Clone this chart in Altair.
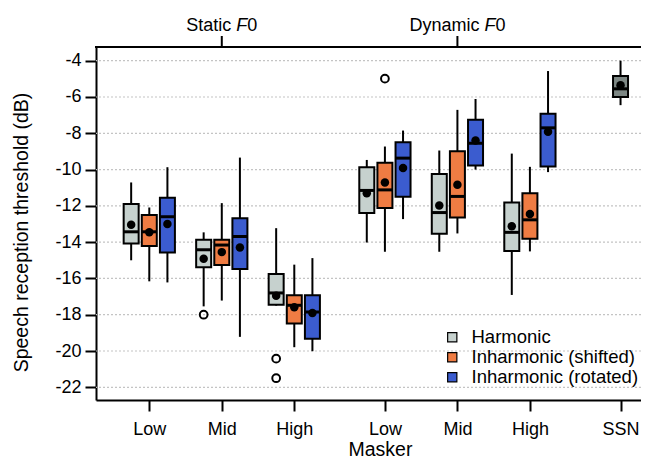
import altair as alt
import pandas as pd

FONT = "Liberation Sans"
FS = 18        # tick labels
FS_TITLE = 19.5
FS_LEG = 18.5

# ---- categories / positions ----
groups = ["Static Low", "Static Mid", "Static High", "Dynamic Low", "Dynamic Mid", "Dynamic High"]
group_pos = [1, 2, 3, 4.25, 5.25, 6.25]
tick_pos = [1, 2, 3, 4.25, 5.25, 6.25, 7.5]
tick_labels = ["Low", "Mid", "High", "Low", "Mid", "High", "SSN"]
y_ticks = [-4, -6, -8, -10, -12, -14, -16, -18, -20, -22]
conditions = ["Harmonic", "Inharmonic (shifted)", "Inharmonic (rotated)"]
cond_offset = [-0.25, 0.0, 0.25]
colors = ["#c6d1ce", "#ef7c43", "#3b5ccf", "#7d8784"]

# ---- box statistics (dB) per group ----
harmonic_wlo = [-15.00, -17.54, -17.50, -14.02, -14.53, -16.91]
harmonic_q1 = [-14.07, -15.39, -17.45, -12.40, -13.54, -14.49]
harmonic_med = [-13.43, -14.42, -16.80, -11.15, -12.37, -13.46]
harmonic_q3 = [-11.90, -13.87, -15.76, -9.87, -10.25, -11.81]
harmonic_whi = [-10.71, -13.46, -13.23, -9.47, -8.95, -9.12]
harmonic_mean = [-13.04, -14.91, -16.95, -11.30, -11.98, -13.13]

shifted_wlo = [-16.16, -17.22, -19.79, -14.53, -13.52, -14.51]
shifted_q1 = [-14.21, -15.26, -18.49, -12.12, -12.64, -13.81]
shifted_med = [-13.43, -14.16, -17.48, -11.12, -11.48, -12.77]
shifted_q3 = [-12.51, -13.87, -16.93, -9.63, -8.99, -11.30]
shifted_whi = [-12.09, -11.85, -15.24, -8.73, -6.71, -9.85]
shifted_mean = [-13.45, -14.55, -17.59, -10.71, -10.84, -12.45]

rotated_wlo = [-16.22, -19.22, -20.01, -12.73, -10.00, -10.14]
rotated_q1 = [-14.57, -15.48, -19.33, -11.50, -9.78, -9.83]
rotated_med = [-12.60, -13.69, -17.85, -9.37, -8.55, -7.70]
rotated_q3 = [-11.56, -12.69, -16.93, -8.49, -7.25, -6.92]
rotated_whi = [-9.87, -9.34, -14.88, -7.85, -6.11, -4.57]
rotated_mean = [-13.00, -14.29, -17.90, -9.92, -8.40, -7.91]

ssn_stats = {"wlo": -6.45, "q1": -6.0, "med": -5.55, "q3": -4.85, "whi": -4.0, "mean": -5.35}

outlier_group = ["Static Mid", "Static High", "Static High", "Dynamic Low"]
outlier_cond = ["Harmonic", "Harmonic", "Harmonic", "Inharmonic (shifted)"]
outlier_value = [-18.0, -20.42, -21.5, -4.99]

top_pos = [2, 5.25]
top_prefix = ["Static", "Dynamic"]

# ---- build table ----
stats = {
    "Harmonic": (harmonic_wlo, harmonic_q1, harmonic_med, harmonic_q3, harmonic_whi, harmonic_mean),
    "Inharmonic (shifted)": (shifted_wlo, shifted_q1, shifted_med, shifted_q3, shifted_whi, shifted_mean),
    "Inharmonic (rotated)": (rotated_wlo, rotated_q1, rotated_med, rotated_q3, rotated_whi, rotated_mean),
}
rows = []
for ci, cond in enumerate(conditions):
    wlo, q1, med, q3, whi, mean = stats[cond]
    for gi, g in enumerate(groups):
        rows.append(dict(group=g, cond=cond, pos=group_pos[gi] + cond_offset[ci],
                         wlo=wlo[gi], q1=q1[gi], med=med[gi], q3=q3[gi], whi=whi[gi], mean=mean[gi]))
rows.append(dict(group="SSN", cond="SSN", pos=7.5, **ssn_stats))
df = pd.DataFrame(rows)

out_rows = []
for g, c, v in zip(outlier_group, outlier_cond, outlier_value):
    out_rows.append(dict(pos=group_pos[groups.index(g)] + cond_offset[conditions.index(c)], value=v))
out_df = pd.DataFrame(out_rows)

# ---- scales & axes ----
PX_PER_UNIT = 72.5
W = 545
H = 353
x_lo = 0.265
x_scale = alt.Scale(domain=[x_lo, x_lo + W / PX_PER_UNIT], nice=False, zero=False, padding=0)
y_scale = alt.Scale(domain=[-22.70, -3.245], nice=False, zero=False, padding=0)

label_expr = "[" + ",".join("'%s'" % t for t in tick_labels) + "][indexof([" + \
    ",".join(str(p) for p in tick_pos) + "], datum.value)]"

x_axis_bottom = alt.Axis(orient="bottom", values=tick_pos, labelExpr=label_expr,
                         tickSize=11, tickWidth=2, tickColor="black",
                         domainColor="black", domainWidth=2, grid=False,
                         labelPadding=9, labelFont=FONT, labelFontSize=FS, labelColor="black",
                         labelFlush=False, labelOverlap=False,
                         titleFont=FONT, titleFontSize=FS_TITLE, titleFontWeight="normal",
                         titleColor="black", titleX=284, titleY=49, titleBaseline="middle",
                         titleAlign="center")

y_axis = alt.Axis(values=y_ticks, labelExpr="'-' + abs(datum.value)",
                  tickSize=11, tickWidth=2, tickColor="black",
                  domainColor="black", domainWidth=2, grid=False,
                  labelPadding=4, labelFont=FONT, labelFontSize=FS, labelColor="black",
                  labelFlush=False, labelOverlap=False,
                  titleFont=FONT, titleFontSize=FS_TITLE, titleFontWeight="normal", titleColor="black",
                  titleX=-75, titleY=185, titleAlign="center", titleBaseline="middle")

X_NONE = alt.X("pos:Q", scale=x_scale, axis=None)

# gridlines
grid = alt.Chart(pd.DataFrame({"t": y_ticks})).mark_rule(
    color="#c4c4c4", strokeWidth=1.2, strokeDash=[2, 2]).encode(
    y=alt.Y("t:Q", scale=y_scale, axis=y_axis, title="Speech reception threshold (dB)"),
)

base = alt.Chart(df)

whiskers = base.mark_rule(color="black", strokeWidth=2).encode(
    x=alt.X("pos:Q", scale=x_scale, axis=x_axis_bottom, title="Masker"),
    y=alt.Y("wlo:Q", scale=y_scale, axis=None),
    y2="whi:Q",
)

boxes = base.mark_bar(size=15, stroke="black", strokeWidth=2, orient="vertical", opacity=1).encode(
    x=X_NONE,
    y=alt.Y("q1:Q", scale=y_scale, axis=None),
    y2="q3:Q",
    color=alt.Color("cond:N",
                    scale=alt.Scale(domain=conditions + ["SSN"], range=colors),
                    legend=alt.Legend(values=conditions, title=None, orient="none",
                                      legendX=347, legendY=281, padding=0,
                                      symbolType="square", symbolSize=85,
                                      symbolStrokeColor="black", symbolStrokeWidth=1.2,
                                      labelFont=FONT, labelFontSize=FS_LEG, labelColor="black",
                                      labelLimit=400, labelOffset=10, rowPadding=1)),
)

medians = base.mark_tick(color="black", thickness=3, size=15, orient="horizontal", opacity=1).encode(
    x=X_NONE,
    y=alt.Y("med:Q", scale=y_scale, axis=None),
)

means = base.mark_circle(color="black", size=72, opacity=1).encode(
    x=X_NONE,
    y=alt.Y("mean:Q", scale=y_scale, axis=None),
)

outliers = alt.Chart(out_df).mark_point(shape="circle", filled=False, stroke="black",
                                        strokeWidth=2, size=60, opacity=1).encode(
    x=X_NONE,
    y=alt.Y("value:Q", scale=y_scale, axis=None),
)

# ---- top frame line and ticks ----
top_line = alt.Chart(pd.DataFrame({"a": [0]})).mark_rule(color="black", strokeWidth=2).encode(
    x=alt.value(-1), x2=alt.value(W + 2), y=alt.value(0))
top_df = pd.DataFrame({"pos": top_pos})
top_ticks = alt.Chart(top_df).mark_rule(color="black", strokeWidth=2).encode(
    x=X_NONE, y=alt.value(0), y2=alt.value(-11))

# ---- top labels ("Static F0", "Dynamic F0", F in italics) ----
AW = {"S": 667, "t": 278, "a": 556, "i": 222, "c": 500, " ": 278, "D": 722, "y": 500,
      "n": 556, "m": 833, "F": 611, "0": 556}


def width(s):
    return sum(AW[ch] for ch in s) / 1000.0 * FS


top_layers = []
for p, pre in zip(top_pos, top_prefix):
    shift = (width(pre) + width(" ") - width("F") - width("0")) / 2.0
    tdf = pd.DataFrame({"pos": [p], "pre": [pre], "f": ["F"], "z": ["0"]})
    common = dict(baseline="alphabetic", font=FONT, fontSize=FS, color="black")
    top_layers.append(alt.Chart(tdf).mark_text(align="right", dx=shift - width(" "), **common).encode(
        x=X_NONE, y=alt.value(-16), text="pre:N"))
    top_layers.append(alt.Chart(tdf).mark_text(align="left", dx=shift, fontStyle="italic", **common).encode(
        x=X_NONE, y=alt.value(-16), text="f:N"))
    top_layers.append(alt.Chart(tdf).mark_text(align="left", dx=shift + width("F"), **common).encode(
        x=X_NONE, y=alt.value(-16), text="z:N"))

chart = alt.layer(grid, whiskers, boxes, medians, means, outliers, top_line, top_ticks,
                  *top_layers).resolve_axis(x="independent", y="independent").properties(
    width=W, height=H,
    background="white",
    autosize=alt.AutoSizeParams(type="none"),
    padding={"left": 88, "top": 39, "right": 0, "bottom": 60},
).configure_view(stroke=None)

chart.save("out.html", embed_options={"renderer": "svg", "actions": False})
